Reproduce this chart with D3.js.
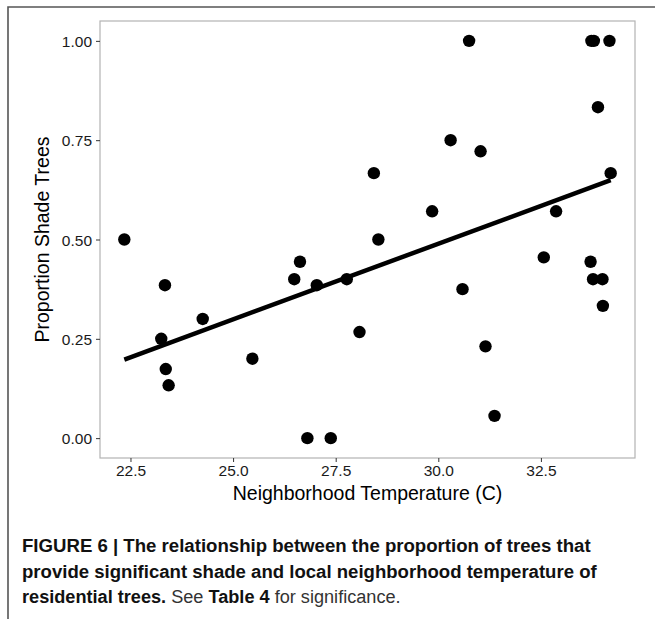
<!DOCTYPE html>
<html>
<head>
<meta charset="utf-8">
<script src="https://cdn.jsdelivr.net/npm/d3@7/dist/d3.min.js"></script>
<style>
  html, body { margin: 0; padding: 0; background: #fff; }
  svg { display: block; font-family: "Liberation Sans", Arial, Helvetica, sans-serif; }
</style>
</head>
<body>
<script>
// neighborhood temperature (C) and proportion of shade trees
var temperature = [22.35, 23.34, 24.26, 23.25, 25.47, 23.36, 23.43,
  30.30, 28.43, 29.85, 28.54, 26.63, 26.49, 27.04, 27.77, 28.08, 26.81, 27.38,
  30.75, 33.73, 33.79, 34.17, 33.89, 31.03, 34.20, 32.87, 32.57, 33.71,
  33.77, 34.00, 34.01, 30.59, 31.15, 31.37];
var shadeProp = [0.500, 0.385, 0.300, 0.250, 0.200, 0.174, 0.133,
  0.750, 0.667, 0.571, 0.500, 0.444, 0.400, 0.385, 0.400, 0.267, 0.000, 0.000,
  1.000, 1.000, 1.000, 1.000, 0.833, 0.722, 0.667, 0.571, 0.455, 0.444,
  0.400, 0.400, 0.333, 0.375, 0.231, 0.056];
var xTicks = [22.5, 25.0, 27.5, 30.0, 32.5];
var yTicks = [0, 0.25, 0.5, 0.75, 1.0];

var width = 655, height = 619;
var panel = { left: 100, right: 635, top: 21, bottom: 458 };

var svg = d3.select('body').append('svg')
  .attr('width', width)
  .attr('height', height);

// outer frame (top and left edge of the figure box)
svg.append('path')
  .attr('d', 'M8,' + height + 'V7H' + width)
  .attr('fill', 'none')
  .attr('stroke', '#555')
  .attr('stroke-width', 1.6);

// scales, ggplot-like 5% expansion
var xExt = d3.extent(temperature), xPad = (xExt[1] - xExt[0]) * 0.05;
var x = d3.scaleLinear()
  .domain([xExt[0] - xPad, xExt[1] + xPad])
  .range([panel.left, panel.right]);
var y = d3.scaleLinear()
  .domain([-0.05, 1.05])
  .range([panel.bottom, panel.top]);

// panel border
svg.append('rect')
  .attr('x', panel.left)
  .attr('y', panel.top)
  .attr('width', panel.right - panel.left)
  .attr('height', panel.bottom - panel.top)
  .attr('fill', 'none')
  .attr('stroke', '#b3b3b3')
  .attr('stroke-width', 1.2);

// axes
var xAxis = d3.axisBottom(x).tickValues(xTicks).tickFormat(d3.format('.1f'))
  .tickSizeInner(4).tickSizeOuter(0).tickPadding(3);
var gx = svg.append('g')
  .attr('transform', 'translate(0,' + panel.bottom + ')')
  .call(xAxis);
var yAxis = d3.axisLeft(y).tickValues(yTicks).tickFormat(d3.format('.2f'))
  .tickSizeInner(4).tickSizeOuter(0).tickPadding(4);
var gy = svg.append('g')
  .attr('transform', 'translate(' + panel.left + ',0)')
  .call(yAxis);
[gx, gy].forEach(function (g) {
  g.select('.domain').remove();
  g.selectAll('.tick line').attr('stroke', '#333').attr('stroke-width', 1);
  g.selectAll('.tick text')
    .attr('fill', '#1a1a1a')
    .style('font-size', '15.5px')
    .style('font-family', '"Liberation Sans", Arial, sans-serif');
});
gy.selectAll('.tick text').attr('dy', '0.36em');

// points
svg.selectAll('.pt')
  .data(temperature)
  .enter()
  .append('circle')
  .attr('class', 'pt')
  .attr('cx', function (d) { return x(d); })
  .attr('cy', function (d, i) { return y(shadeProp[i]); })
  .attr('r', 6.2)
  .attr('fill', '#000');

// least squares fit line
var mx = d3.mean(temperature), my = d3.mean(shadeProp);
var sxy = d3.sum(temperature, function (d, i) { return (d - mx) * (shadeProp[i] - my); });
var sxx = d3.sum(temperature, function (d) { return (d - mx) * (d - mx); });
var slope = sxy / sxx, intercept = my - slope * mx;
svg.append('line')
  .attr('x1', x(xExt[0]))
  .attr('y1', y(intercept + slope * xExt[0]))
  .attr('x2', x(xExt[1]))
  .attr('y2', y(intercept + slope * xExt[1]))
  .attr('stroke', '#000')
  .attr('stroke-width', 4.5);

// axis titles
svg.append('text')
  .attr('x', (panel.left + panel.right) / 2)
  .attr('y', 500)
  .attr('text-anchor', 'middle')
  .style('font-size', '19.5px')
  .attr('fill', '#000')
  .text('Neighborhood Temperature (C)');
svg.append('text')
  .attr('transform', 'translate(49,' + (panel.top + panel.bottom) / 2 + ') rotate(-90)')
  .attr('text-anchor', 'middle')
  .style('font-size', '19.5px')
  .attr('fill', '#000')
  .text('Proportion Shade Trees');

// caption
var caption = [
  [{ t: 'FIGURE 6 | The relationship between the proportion of trees that', b: true }],
  [{ t: 'provide significant shade and local neighborhood temperature of', b: true }],
  [{ t: 'residential trees.', b: true }, { t: ' See ', b: false }, { t: 'Table 4', b: true }, { t: ' for significance.', b: false }]
];
// line widths in the original (its face is narrower than Liberation Sans)
var captionWidths = [569, 575, 379];
var capTexts = svg.selectAll('.cap')
  .data(caption)
  .enter()
  .append('text')
  .attr('class', 'cap')
  .attr('y', function (d, i) { return 552 + i * 25.7; })
  .style('font-size', '19px')
  .attr('fill', '#111');
capTexts.selectAll('tspan')
  .data(function (d) { return d; })
  .enter()
  .append('tspan')
  .style('font-weight', function (d) { return d.b ? 'bold' : 'normal'; })
  .attr('fill', function (d) { return d.b ? '#111' : '#333'; })
  .style('white-space', 'pre')
  .text(function (d) { return d.t; });
capTexts.each(function (d, i) {
  var sx = captionWidths[i] / this.getComputedTextLength();
  d3.select(this).attr('transform', 'translate(22,0) scale(' + sx + ',1)');
});
</script>
</body>
</html>
